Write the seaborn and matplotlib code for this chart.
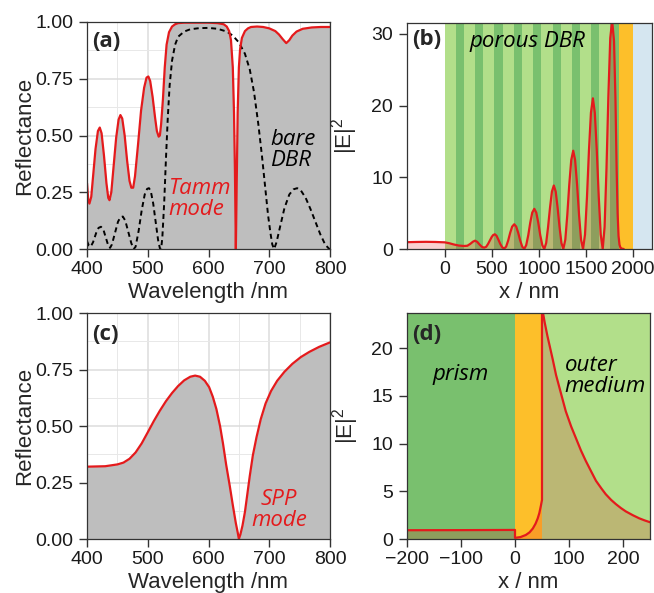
import numpy as np
import pandas as pd
import matplotlib
matplotlib.use("Agg")
import matplotlib.pyplot as plt
from matplotlib.ticker import MultipleLocator
import seaborn as sns

# ---------------- data ----------------
# (a) Tamm structure reflectance
tamm_wl = [400, 402, 404, 407, 410, 414, 418, 421, 424, 428, 432, 435, 437, 440, 444, 448, 452, 455,
           458, 462, 466, 470, 473, 476, 479, 484, 489, 494, 498, 501, 504, 508, 512, 515, 518, 520,
           522, 525, 528, 531, 535, 540, 545, 550, 560, 580, 600, 615, 625, 630, 634, 637, 640, 642,
           643.5, 645, 646.5, 648, 650, 652, 655, 660, 665, 670, 680, 690, 700, 710, 716, 722, 728,
           733, 738, 745, 755, 770, 785, 800]
tamm_R = [0.29, 0.22, 0.20, 0.23, 0.32, 0.44, 0.52, 0.535, 0.51, 0.41, 0.29, 0.225, 0.215, 0.25, 0.37,
          0.49, 0.57, 0.59, 0.575, 0.50, 0.39, 0.30, 0.27, 0.27, 0.32, 0.46, 0.61, 0.71, 0.755, 0.76,
          0.74, 0.67, 0.58, 0.52, 0.495, 0.50, 0.55, 0.66, 0.80, 0.90, 0.955, 0.98, 0.99, 0.995, 0.997,
          0.997, 0.997, 0.995, 0.99, 0.98, 0.96, 0.92, 0.80, 0.60, 0.35, 0.0, 0.30, 0.60, 0.80, 0.88,
          0.93, 0.96, 0.972, 0.978, 0.98, 0.978, 0.972, 0.96, 0.945, 0.925, 0.907, 0.92, 0.94, 0.958,
          0.97, 0.976, 0.978, 0.978]
# (a) bare DBR reflectance
dbr_wl = [400, 403, 406, 410, 415, 419, 423, 427, 431, 435, 438, 441, 446, 451, 455, 459, 463, 468,
          473, 477, 480, 485, 490, 495, 499, 502, 505, 509, 513, 517, 520, 522, 524, 527, 530, 533,
          536, 540, 545, 550, 560, 570, 585, 600, 615, 630, 640, 650, 660, 668, 675, 682, 688, 693,
          698, 702, 705, 708, 712, 718, 725, 733, 740, 746, 752, 760, 768, 776, 784, 792, 798, 800]
dbr_R = [0.035, 0.015, 0.01, 0.03, 0.07, 0.093, 0.098, 0.085, 0.05, 0.015, 0.005, 0.02, 0.07, 0.12,
         0.14, 0.143, 0.125, 0.075, 0.025, 0.0, 0.01, 0.08, 0.17, 0.24, 0.265, 0.268, 0.255, 0.20,
         0.12, 0.04, 0.003, 0.0, 0.05, 0.20, 0.40, 0.58, 0.72, 0.83, 0.90, 0.935, 0.958, 0.968, 0.973,
         0.974, 0.97, 0.958, 0.94, 0.91, 0.86, 0.79, 0.69, 0.55, 0.41, 0.28, 0.15, 0.07, 0.02, 0.0,
         0.03, 0.10, 0.18, 0.24, 0.263, 0.268, 0.258, 0.225, 0.175, 0.12, 0.065, 0.02, 0.002, 0.0]

# (b) |E|^2 profile through the Tamm structure
field_x_b = [-400, -300, -200, -100, 0, 50, 100, 150, 205, 240, 270, 300, 322, 345, 370, 395,
             418, 440, 460, 480, 500, 515, 532, 550, 570, 590, 610,
             631, 652, 674, 695, 716, 738, 759, 780, 801, 823,
             844, 865, 887, 908, 929, 951, 972, 993, 1014, 1036,
             1057, 1077, 1097, 1118, 1138, 1158, 1178, 1198, 1219, 1239,
             1259, 1280, 1301, 1322, 1343, 1364, 1384, 1405, 1426, 1447,
             1468, 1489, 1510, 1531, 1552, 1573, 1593, 1614, 1635, 1656,
             1677, 1697, 1717, 1737, 1757, 1777, 1797, 1812, 1825, 1835, 1845, 1855, 1865, 1880, 1900]
field_E_b = [0.95, 0.98, 1.0, 0.98, 0.93, 0.8, 0.62, 0.48, 0.42, 0.45, 0.7, 1.02, 1.16, 1.0, 0.62, 0.3,
             0.18, 0.3, 0.7, 1.2, 1.7, 1.95, 2.05, 1.85, 1.3, 0.7, 0.25,
             0.05, 0.33, 1.19, 2.26, 3.12, 3.45, 3.12, 2.26, 1.19, 0.33,
             0.0, 0.53, 1.93, 3.67, 5.07, 5.6, 5.07, 3.67, 1.93, 0.53,
             0.0, 0.84, 3.05, 5.8, 8.01, 8.85, 8.01, 5.8, 3.05, 0.84,
             0.0, 1.3, 4.73, 8.97, 12.4, 13.7, 12.4, 8.97, 4.73, 1.3,
             0.0, 2.0, 7.25, 13.76, 19.0, 21.0, 19.0, 13.76, 7.25, 2.0,
             0.0, 3.09, 11.2, 21.3, 29.4, 31.8, 29.0, 21.0, 11.0, 5.0, 1.8, 0.6, 0.2, 0.05, 0.0]
# (b) layer structure
dbr_start, dbr_end = 0, 1845
dark_layers = [(117, 200), (320, 407), (524, 614), (731, 819), (939, 1021),
               (1146, 1234), (1348, 1440), (1553, 1642), (1757, 1845)]
gold_b = (1845, 2000)
outer_b = (2000, 2200)

# (c) SPP reflectance
spp_wl = [400, 430, 450, 460, 470, 480, 490, 500, 510, 520, 530, 540, 550, 560, 570, 578, 586, 594,
          601, 607, 613, 619, 624, 629, 635, 640, 645, 648, 650, 652.5, 656, 660, 664, 668, 673, 679,
          686, 694, 703, 713, 725, 738, 752, 766, 782, 800]
spp_R = [0.32, 0.322, 0.330, 0.338, 0.355, 0.383, 0.423, 0.472, 0.522, 0.568, 0.610, 0.646, 0.677,
         0.702, 0.718, 0.723, 0.718, 0.700, 0.672, 0.630, 0.575, 0.50, 0.42, 0.33, 0.235, 0.15,
         0.07, 0.03, 0.0, 0.02, 0.06, 0.12, 0.20, 0.28, 0.37, 0.45, 0.53, 0.60, 0.655, 0.70, 0.74,
         0.775, 0.805, 0.828, 0.85, 0.87]

# (d) |E|^2 profile for SPP
field_x_d = [-200, -100, 0, 0, 10, 20, 27, 33, 38, 42, 45, 48, 50, 50, 55, 60, 64, 70, 76, 85, 94,
             104, 113, 122, 131, 140, 150, 160, 168, 178, 187, 196, 205, 218, 230, 240, 250]
field_E_d = [0.92, 0.93, 0.95, 0.12, 0.2, 0.42, 0.7, 1.1, 1.6, 2.15, 2.7, 3.5, 4.1, 24.3, 22.7, 21.3,
             20.3, 18.8, 17.2, 15.3, 13.4, 11.8, 10.55, 9.3, 8.2, 7.2, 6.1, 5.3, 4.7, 4.1, 3.65, 3.25,
             2.9, 2.5, 2.17, 1.95, 1.76]
prism_d = (-200, 0)
gold_d = (0, 50)
outer_d = (50, 250)

# ---------------- styling ----------------
sns.set_style("white")
plt.rcParams['font.family'] = ['Liberation Sans', 'DejaVu Sans']
plt.rcParams['mathtext.fontset'] = 'custom'
plt.rcParams['mathtext.rm'] = 'Liberation Sans'
plt.rcParams['mathtext.it'] = 'Liberation Sans:italic'

RED = '#E41A1C'
GRAY_FILL = '#BEBEBE'
LIGHT_GREEN = '#B2DF8A'
DARK_GREEN = '#79C06E'
GOLD = '#FDBF2A'
LIGHT_BLUE = '#D5E6F0'
ANN = dict(family=['Open Sans', 'DejaVu Sans'], style='italic', fontsize=16)
LAB = dict(family=['Open Sans', 'DejaVu Sans'], weight='bold', fontsize=16)

W, H = 654, 593
fig = plt.figure(figsize=(W / 100, H / 100), dpi=100)


def axes_px(l, t, r, b):
    return fig.add_axes([l / W, 1 - b / H, (r - l) / W, (b - t) / H])


ax_a = axes_px(87, 22, 330, 249)
ax_b = axes_px(407, 23, 652, 249)
ax_c = axes_px(87, 313, 330, 539)
ax_d = axes_px(407, 313, 650, 539)


def style(ax):
    for s in ax.spines.values():
        s.set_visible(True)
        s.set_color('#333333')
        s.set_linewidth(0.9)
        s.set_zorder(5)
    ax.tick_params(axis='both', which='major', direction='out', length=6, width=1.0,
                   color='#333333', labelsize=14, labelcolor='#1a1a1a',
                   bottom=True, left=True, top=False, right=False)
    ax.tick_params(axis='x', which='major', pad=3)
    ax.tick_params(axis='y', which='major', pad=4)
    ax.tick_params(which='minor', length=0)


def reflectance_axes(ax):
    ax.set_xlim(400, 800)
    ax.set_ylim(0, 1)
    ax.set_xticks([400, 500, 600, 700, 800])
    ax.set_yticks([0, 0.25, 0.5, 0.75, 1.0])
    ax.set_yticklabels(['0.00', '0.25', '0.50', '0.75', '1.00'])
    ax.xaxis.set_minor_locator(MultipleLocator(50))
    ax.yaxis.set_minor_locator(MultipleLocator(0.125))
    ax.grid(which='major', color='#DCDCDC', linewidth=1.1)
    ax.grid(which='minor', color='#E8E8E8', linewidth=0.7)
    ax.set_axisbelow(True)
    ax.set_xlabel('Wavelength /nm', fontsize=16)
    ax.set_ylabel('Reflectance', fontsize=16)
    ax.xaxis.set_label_coords(0.5, -0.145)
    ax.yaxis.set_label_coords(-0.215, 0.5)
    style(ax)


# ---------------- (a) ----------------
df_tamm = pd.DataFrame({'wl': tamm_wl, 'R': tamm_R})
df_dbr = pd.DataFrame({'wl': dbr_wl, 'R': dbr_R})
reflectance_axes(ax_a)
ax_a.fill_between(df_tamm['wl'], df_tamm['R'], 0, color=GRAY_FILL, linewidth=0, zorder=1)
sns.lineplot(data=df_dbr, x='wl', y='R', ax=ax_a, color='black', linewidth=1.4,
             linestyle=(0, (2.6, 1.9)), estimator=None, sort=False, zorder=3)
sns.lineplot(data=df_tamm, x='wl', y='R', ax=ax_a, color=RED, linewidth=1.6,
             estimator=None, sort=False, zorder=4)
ax_a.set_xlabel('Wavelength /nm', fontsize=16)
ax_a.set_ylabel('Reflectance', fontsize=16)
ax_a.text(0.02, 0.912, '(a)', transform=ax_a.transAxes, ha='left', va='center', **LAB)
ax_a.text(586, 0.222, 'Tamm\nmode', color=RED, ha='center', va='center',
          multialignment='left', linespacing=1.0, **ANN)
ax_a.text(739, 0.436, 'bare\nDBR', color='black', ha='center', va='center',
          multialignment='left', linespacing=1.0, **ANN)

# ---------------- (b) ----------------
df_b = pd.DataFrame({'x': field_x_b, 'E2': field_E_b})
ax_b.set_xlim(-400, 2200)
ax_b.set_ylim(0, 31.5)
ax_b.axvspan(dbr_start, dbr_end, color=LIGHT_GREEN, linewidth=0, zorder=0)
for a0, a1 in dark_layers:
    ax_b.axvspan(a0, a1, color=DARK_GREEN, linewidth=0, zorder=0)
ax_b.axvspan(*gold_b, color=GOLD, linewidth=0, zorder=0)
ax_b.axvspan(*outer_b, color=LIGHT_BLUE, linewidth=0, zorder=0)
ax_b.fill_between(df_b['x'], df_b['E2'], 0, color=RED, alpha=0.2, linewidth=0, zorder=1)
sns.lineplot(data=df_b, x='x', y='E2', ax=ax_b, color=RED, linewidth=1.6,
             estimator=None, sort=False, zorder=4)
ax_b.set_xticks([0, 500, 1000, 1500, 2000])
ax_b.set_yticks([0, 10, 20, 30])
ax_b.grid(False)
style(ax_b)
ax_b.set_xlabel('x / nm', fontsize=16)
ax_b.set_ylabel('|E|$^{2}$', fontsize=16)
ax_b.xaxis.set_label_coords(0.5, -0.145)
ax_b.yaxis.set_label_coords(-0.19, 0.5)
ax_b.text(0.02, 0.925, '(b)', transform=ax_b.transAxes, ha='left', va='center', **LAB)
ax_b.text(883, 28.9, 'porous DBR', color='black', ha='center', va='center', **ANN)

# ---------------- (c) ----------------
df_spp = pd.DataFrame({'wl': spp_wl, 'R': spp_R})
reflectance_axes(ax_c)
ax_c.fill_between(df_spp['wl'], df_spp['R'], 0, color=GRAY_FILL, linewidth=0, zorder=1)
sns.lineplot(data=df_spp, x='wl', y='R', ax=ax_c, color=RED, linewidth=1.6,
             estimator=None, sort=False, zorder=4)
ax_c.set_xlabel('Wavelength /nm', fontsize=16)
ax_c.set_ylabel('Reflectance', fontsize=16)
ax_c.text(0.02, 0.905, '(c)', transform=ax_c.transAxes, ha='left', va='center', **LAB)
ax_c.text(716, 0.13, 'SPP\nmode', color=RED, ha='center', va='center',
          multialignment='center', linespacing=1.0, **ANN)

# ---------------- (d) ----------------
df_d = pd.DataFrame({'x': field_x_d, 'E2': field_E_d})
ax_d.set_xlim(-200, 250)
ax_d.set_ylim(0, 23.7)
ax_d.axvspan(*prism_d, color=DARK_GREEN, linewidth=0, zorder=0)
ax_d.axvspan(*gold_d, color=GOLD, linewidth=0, zorder=0)
ax_d.axvspan(*outer_d, color=LIGHT_GREEN, linewidth=0, zorder=0)
ax_d.fill_between(df_d['x'], df_d['E2'], 0, color=RED, alpha=0.2, linewidth=0, zorder=1)
sns.lineplot(data=df_d, x='x', y='E2', ax=ax_d, color=RED, linewidth=1.6,
             estimator=None, sort=False, zorder=4)
ax_d.set_xticks([-200, -100, 0, 100, 200])
ax_d.set_yticks([0, 5, 10, 15, 20])
ax_d.grid(False)
style(ax_d)
ax_d.set_xlabel('x / nm', fontsize=16)
ax_d.set_ylabel('|E|$^{2}$', fontsize=16)
ax_d.xaxis.set_label_coords(0.5, -0.145)
ax_d.yaxis.set_label_coords(-0.19, 0.5)
ax_d.text(0.02, 0.905, '(d)', transform=ax_d.transAxes, ha='left', va='center', **LAB)
ax_d.text(-100, 17.2, 'prism', color='black', ha='center', va='center', **ANN)
ax_d.text(92, 17.1, 'outer\nmedium', color='black', ha='left', va='center',
          multialignment='left', linespacing=1.0, **ANN)

fig.savefig('out.png', dpi=100)
